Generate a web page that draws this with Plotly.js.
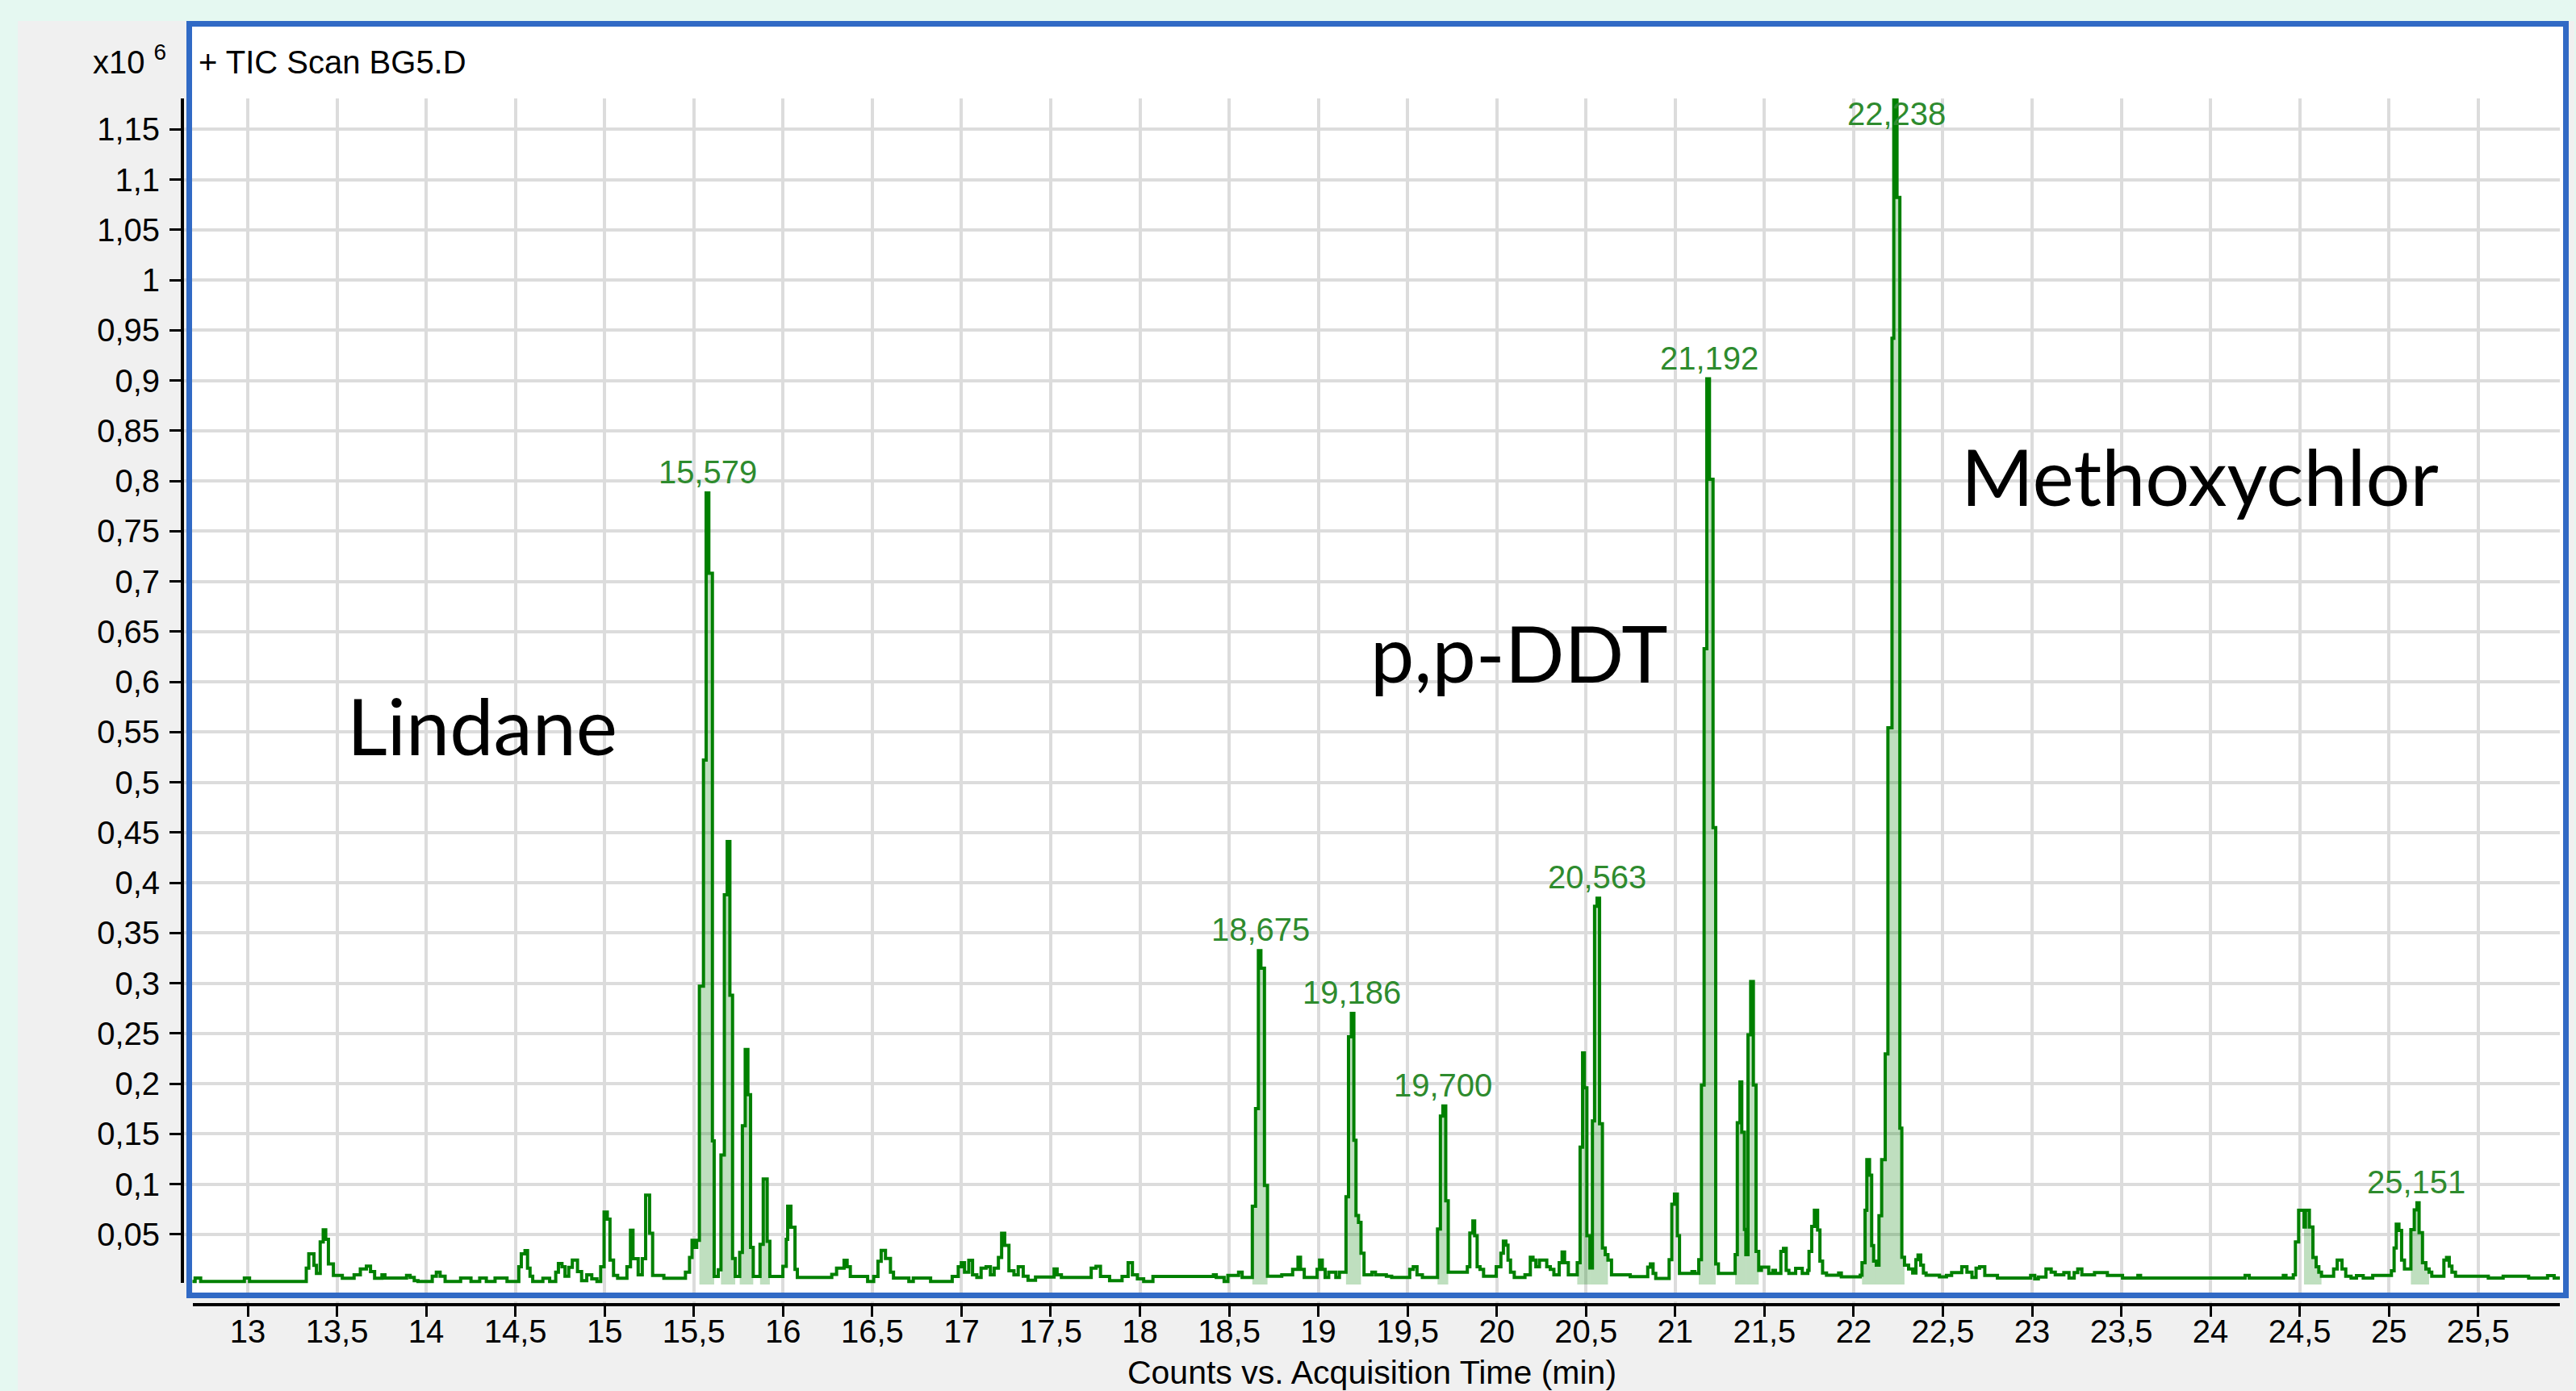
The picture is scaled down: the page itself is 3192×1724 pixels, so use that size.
<!DOCTYPE html>
<html>
<head>
<meta charset="utf-8">
<script src="https://cdn.plot.ly/plotly-3.0.1.min.js"></script>
<style>
html,body{margin:0;padding:0;background:#E5F8F1;}
#chart{width:3192px;height:1724px;}
</style>
</head>
<body>
<div id="chart"></div>
<script>
// ---------------- DATA ----------------
// retention time (min) and TIC counts (x10^6), stepped signal
const timeMin = [
12.690,12.705,12.736,12.981,13.010,13.328,13.342,13.371,13.385,13.406,13.423,13.437,13.452,13.480,13.530,13.596,13.631,13.665,13.688,13.711,
13.752,13.769,13.890,13.910,13.933,13.954,14.034,14.057,14.078,14.106,14.193,14.251,14.300,14.337,14.386,14.453,14.519,14.533,14.554,14.568,
14.582,14.597,14.654,14.692,14.726,14.741,14.761,14.778,14.799,14.819,14.848,14.871,14.900,14.928,14.957,14.978,14.997,15.015,15.030,15.050,
15.073,15.125,15.145,15.159,15.188,15.211,15.230,15.252,15.269,15.332,15.453,15.476,15.490,15.505,15.516,15.531,15.554,15.569,15.584,15.604,
15.614,15.637,15.652,15.671,15.687,15.702,15.717,15.732,15.757,15.772,15.788,15.803,15.818,15.833,15.871,15.889,15.911,15.926,15.999,16.018,
16.026,16.044,16.067,16.080,16.273,16.300,16.342,16.359,16.377,16.474,16.508,16.532,16.550,16.574,16.602,16.619,16.705,16.730,16.827,16.948,
16.982,16.999,17.017,17.041,17.062,17.086,17.110,17.138,17.162,17.183,17.207,17.225,17.242,17.266,17.294,17.318,17.346,17.373,17.415,17.519,
17.536,17.560,17.727,17.754,17.779,17.830,17.900,17.934,17.958,17.986,18.021,18.073,18.412,18.428,18.472,18.493,18.553,18.573,18.630,18.648,
18.664,18.678,18.698,18.715,18.795,18.856,18.886,18.900,18.921,18.993,19.007,19.022,19.038,19.058,19.098,19.118,19.155,19.169,19.185,19.199,
19.211,19.225,19.239,19.256,19.300,19.320,19.381,19.411,19.512,19.532,19.553,19.583,19.668,19.684,19.698,19.714,19.728,19.835,19.849,19.866,
19.876,19.890,19.906,19.926,19.997,20.023,20.037,20.051,20.063,20.077,20.098,20.158,20.188,20.203,20.219,20.239,20.280,20.300,20.320,20.350,
20.366,20.380,20.401,20.451,20.467,20.481,20.491,20.505,20.522,20.536,20.548,20.562,20.576,20.592,20.608,20.623,20.643,20.748,20.846,20.861,
20.876,20.891,20.966,20.981,20.996,21.012,21.024,21.094,21.110,21.132,21.147,21.162,21.177,21.192,21.212,21.227,21.242,21.336,21.348,21.363,
21.373,21.388,21.396,21.408,21.423,21.438,21.453,21.468,21.483,21.524,21.547,21.562,21.592,21.607,21.622,21.637,21.675,21.712,21.743,21.750,
21.765,21.780,21.798,21.811,21.826,21.848,21.916,21.931,22.037,22.047,22.064,22.074,22.089,22.101,22.112,22.127,22.142,22.157,22.177,22.192,
22.215,22.225,22.243,22.259,22.270,22.285,22.308,22.331,22.349,22.361,22.376,22.391,22.406,22.481,22.520,22.549,22.606,22.635,22.663,22.686,
22.706,22.735,22.806,22.992,23.015,23.035,23.078,23.107,23.130,23.178,23.207,23.236,23.256,23.279,23.350,23.422,23.507,23.593,23.608,24.194,
24.217,24.408,24.423,24.464,24.476,24.494,24.524,24.532,24.554,24.574,24.592,24.607,24.622,24.690,24.710,24.737,24.758,24.788,24.818,24.856,
24.909,25.014,25.029,25.041,25.056,25.071,25.087,25.123,25.142,25.157,25.169,25.188,25.207,25.225,25.240,25.308,25.323,25.338,25.353,25.373,
25.557,25.640,25.783,25.889,25.926,25.958
];
const countsE6 = [
0.0030,0.0065,0.0030,0.0064,0.0030,0.0163,0.0305,0.0190,0.0110,0.0423,0.0544,0.0450,0.0204,0.0091,0.0062,0.0096,0.0155,0.0182,0.0129,0.0062,
0.0096,0.0064,0.0091,0.0070,0.0038,0.0030,0.0083,0.0123,0.0083,0.0030,0.0064,0.0030,0.0064,0.0030,0.0064,0.0030,0.0177,0.0305,0.0337,0.0163,
0.0083,0.0030,0.0062,0.0030,0.0123,0.0209,0.0177,0.0083,0.0171,0.0244,0.0129,0.0038,0.0096,0.0056,0.0030,0.0177,0.0720,0.0650,0.0244,0.0091,
0.0062,0.0177,0.0540,0.0257,0.0096,0.0257,0.0890,0.0511,0.0091,0.0062,0.0123,0.0270,0.0440,0.0370,0.0440,0.2970,0.5220,0.7880,0.7080,0.1430,
0.0080,0.0147,0.1290,0.3880,0.4410,0.2880,0.0260,0.0080,0.0320,0.1580,0.2340,0.1890,0.0370,0.0080,0.0400,0.1050,0.0430,0.0080,0.0180,0.0450,
0.0780,0.0570,0.0150,0.0070,0.0100,0.0163,0.0240,0.0177,0.0080,0.0030,0.0080,0.0230,0.0340,0.0260,0.0123,0.0064,0.0030,0.0064,0.0030,0.0080,
0.0177,0.0217,0.0123,0.0240,0.0096,0.0070,0.0163,0.0177,0.0096,0.0163,0.0270,0.0510,0.0390,0.0137,0.0096,0.0177,0.0083,0.0043,0.0075,0.0155,
0.0096,0.0070,0.0163,0.0180,0.0080,0.0038,0.0080,0.0217,0.0096,0.0056,0.0030,0.0080,0.0097,0.0070,0.0030,0.0091,0.0123,0.0070,0.0779,0.1751,
0.3323,0.3149,0.0986,0.0083,0.0097,0.0150,0.0271,0.0150,0.0070,0.0150,0.0244,0.0150,0.0070,0.0123,0.0070,0.0123,0.0873,0.2466,0.2699,0.1435,
0.0686,0.0619,0.0311,0.0097,0.0123,0.0097,0.0083,0.0070,0.0150,0.0177,0.0097,0.0070,0.0552,0.1676,0.1778,0.0833,0.0123,0.0177,0.0512,0.0632,
0.0485,0.0177,0.0150,0.0083,0.0177,0.0311,0.0431,0.0391,0.0244,0.0123,0.0070,0.0097,0.0271,0.0244,0.0177,0.0244,0.0177,0.0150,0.0097,0.0217,
0.0324,0.0217,0.0097,0.0217,0.1368,0.2305,0.1957,0.0485,0.0164,0.1628,0.3765,0.3845,0.1601,0.0364,0.0297,0.0244,0.0097,0.0079,0.0173,0.0204,
0.0110,0.0060,0.0248,0.0800,0.0900,0.0485,0.0110,0.0129,0.0110,0.0248,0.1985,0.6330,0.9016,0.8016,0.4548,0.0204,0.0110,0.0298,0.1610,0.2016,
0.1516,0.0548,0.0298,0.2485,0.3016,0.1985,0.0329,0.0141,0.0173,0.0110,0.0141,0.0110,0.0329,0.0360,0.0141,0.0110,0.0160,0.0110,0.0141,0.0329,
0.0579,0.0738,0.0543,0.0232,0.0115,0.0092,0.0115,0.0076,0.0092,0.0216,0.0738,0.1244,0.1088,0.0387,0.0232,0.0193,0.0684,0.1244,0.2295,0.5542,
0.9420,1.1795,1.0821,0.1556,0.0271,0.0193,0.0154,0.0115,0.0247,0.0294,0.0193,0.0115,0.0092,0.0076,0.0091,0.0118,0.0177,0.0123,0.0070,0.0163,
0.0177,0.0091,0.0064,0.0091,0.0056,0.0075,0.0155,0.0123,0.0096,0.0118,0.0064,0.0118,0.0155,0.0096,0.0118,0.0091,0.0064,0.0091,0.0064,0.0091,
0.0064,0.0091,0.0064,0.0096,0.0423,0.0739,0.0573,0.0739,0.0573,0.0270,0.0177,0.0123,0.0083,0.0155,0.0243,0.0155,0.0083,0.0064,0.0088,0.0064,
0.0091,0.0136,0.0364,0.0600,0.0538,0.0243,0.0155,0.0546,0.0744,0.0814,0.0517,0.0217,0.0155,0.0123,0.0083,0.0243,0.0270,0.0182,0.0123,0.0083,
0.0064,0.0083,0.0064,0.0088,0.0064,0.0064
];
// integrated (shaded) peak windows, min
const integStart = [15.531,15.652,15.757,15.871,18.630,19.155,19.668,20.451,20.522,21.132,21.336,21.396,22.047,22.127,24.524,25.123];
const integEnd   = [15.614,15.732,15.833,15.926,18.715,19.239,19.728,20.522,20.623,21.227,21.396,21.468,22.127,22.285,24.622,25.225];
// labelled retention times
const peakLabelTimes = [15.579,18.675,19.186,19.700,20.563,21.192,22.238,25.151];
const peakLabelTexts = ['15,579','18,675','19,186','19,700','20,563','21,192','22,238','25,151'];
// compound names
const compoundNames = ['Lindane','p,p-DDT','Methoxychlor'];
// axis ticks
const xTickVals = [13,13.5,14,14.5,15,15.5,16,16.5,17,17.5,18,18.5,19,19.5,20,20.5,21,21.5,22,22.5,23,23.5,24,24.5,25,25.5];
const xTickText = ['13','13,5','14','14,5','15','15,5','16','16,5','17','17,5','18','18,5','19','19,5','20','20,5','21','21,5','22','22,5','23','23,5','24','24,5','25','25,5'];
const yTickVals = [0.05,0.1,0.15,0.2,0.25,0.3,0.35,0.4,0.45,0.5,0.55,0.6,0.65,0.7,0.75,0.8,0.85,0.9,0.95,1,1.05,1.1,1.15];
const yTickText = ['0,05','0,1','0,15','0,2','0,25','0,3','0,35','0,4','0,45','0,5','0,55','0,6','0,65','0,7','0,75','0,8','0,85','0,9','0,95','1','1,05','1,1','1,15'];

// ---------------- LAYOUT GEOMETRY ----------------
const plotL = 228, plotR = 3172, plotT = 122, plotB = 1615;
const px2paperX = p => (p - plotL) / (plotR - plotL);
const px2paperY = p => (plotB - p) / (plotB - plotT);
const xRange = [12.6427, 25.9579];
const yRange = [-0.01847, 1.18072];
const yPxPerUnit = (plotB - plotT) / (yRange[1] - yRange[0]);

const uiFont = '"Liberation Sans", Arial, sans-serif';
const bigFont = 'Lato, "Open Sans", "Noto Sans", sans-serif';
const lineGreen = '#008000';
const fillGreen = 'rgba(0,128,0,0.25)';
const labelGreen = '#2E8B2E';

// ---------------- TRACES ----------------
const traces = [];
for (let k = 0; k < integStart.length; k++) {
  const fx = [], fy = [];
  for (let i = 0; i < timeMin.length; i++) {
    if (timeMin[i] >= integStart[k] - 1e-9 && timeMin[i] <= integEnd[k] + 1e-9) {
      fx.push(timeMin[i]); fy.push(countsE6[i]);
    }
  }
  traces.push({x: fx, y: fy, type: 'scatter', mode: 'lines', line: {shape: 'hv', width: 0, color: fillGreen},
               fill: 'tozeroy', fillcolor: fillGreen, hoverinfo: 'skip', showlegend: false});
}
traces.push({x: timeMin, y: countsE6, type: 'scatter', mode: 'lines',
             line: {shape: 'hv', width: 4, color: lineGreen}, showlegend: false});

// ---------------- ANNOTATIONS ----------------
const annotations = [];
const labelMaxY = yRange[1] - 19 / yPxPerUnit - 26 / yPxPerUnit;
peakLabelTimes.forEach((t, k) => {
  let apex = 0;
  for (let i = 0; i < timeMin.length; i++) {
    if (Math.abs(timeMin[i] - t) <= 0.02 && countsE6[i] > apex) apex = countsE6[i];
  }
  annotations.push({x: t, y: Math.min(apex, labelMaxY), xref: 'x', yref: 'y', yanchor: 'middle', xanchor: 'center',
    yshift: 26, text: peakLabelTexts[k], showarrow: false, font: {family: uiFont, size: 40, color: labelGreen}});
});
const namePx = [[428, 898], [1696, 808], [2428, 589]];
compoundNames.forEach((n, k) => {
  annotations.push({xref: 'paper', yref: 'paper', x: px2paperX(namePx[k][0]), y: px2paperY(namePx[k][1]),
    xanchor: 'left', yanchor: 'middle', text: n, showarrow: false, font: {family: bigFont, size: 97, color: '#000'}});
});
annotations.push({xref: 'paper', yref: 'paper', x: px2paperX(244), y: px2paperY(77), xanchor: 'left', yanchor: 'middle',
  text: '+ TIC Scan BG5.D', showarrow: false, font: {family: uiFont, size: 40, color: '#000'}});
annotations.push({xref: 'paper', yref: 'paper', x: px2paperX(208), y: px2paperY(74), xanchor: 'right', yanchor: 'middle',
  text: 'x10 <sup>6</sup>', showarrow: false, font: {family: uiFont, size: 40, color: '#000'}});

// ---------------- SHAPES (panel, frame) ----------------
const shapes = [
  {type: 'rect', xref: 'paper', yref: 'paper', layer: 'below', x0: px2paperX(22), x1: px2paperX(3190), y0: px2paperY(1724), y1: px2paperY(26),
   fillcolor: '#F0F0F0', line: {width: 0}},
  {type: 'rect', xref: 'paper', yref: 'paper', layer: 'below', x0: px2paperX(231), x1: px2paperX(3183), y0: px2paperY(1609), y1: px2paperY(26),
   fillcolor: '#FFFFFF', line: {width: 0}},
  {type: 'rect', xref: 'paper', yref: 'paper', layer: 'above', x0: px2paperX(220), x1: px2paperX(3190), y0: px2paperY(1613), y1: px2paperY(1602),
   fillcolor: '#F0F0F0', line: {width: 0}},
  {type: 'rect', xref: 'paper', yref: 'paper', layer: 'above', x0: px2paperX(218), x1: px2paperX(239), y0: px2paperY(1620), y1: px2paperY(1590),
   fillcolor: '#F0F0F0', line: {width: 0}},
  {type: 'rect', xref: 'paper', yref: 'paper', layer: 'above', x0: px2paperX(234.5), x1: px2paperX(3179.5), y0: px2paperY(1605.5), y1: px2paperY(29.5),
   fillcolor: 'rgba(0,0,0,0)', line: {color: '#316AC5', width: 7}}
];

const axisCommon = {
  tickmode: 'array', ticks: 'outside', tickwidth: 3, tickcolor: '#000',
  showline: true, linecolor: '#000', linewidth: 4,
  showgrid: true, gridcolor: '#DCDCDC', gridwidth: 4, zeroline: false,
  tickfont: {family: uiFont, size: 40, color: '#000'}, fixedrange: true
};

const layout = {
  width: 3192, height: 1724,
  margin: {l: plotL, r: 3192 - plotR, t: plotT, b: 1724 - plotB, pad: 0},
  paper_bgcolor: '#E5F8F1', plot_bgcolor: 'rgba(0,0,0,0)',
  showlegend: false,
  xaxis: Object.assign({}, axisCommon, {range: xRange, tickvals: xTickVals, ticktext: xTickText, ticklen: 13, ticklabelstandoff: -16,
    title: {text: 'Counts vs. Acquisition Time (min)', font: {family: uiFont, size: 41, color: '#000'}, standoff: 30}}),
  yaxis: Object.assign({}, axisCommon, {range: yRange, tickvals: yTickVals, ticktext: yTickText, ticklen: 14, ticklabelstandoff: 4}),
  annotations: annotations,
  shapes: shapes
};

Plotly.newPlot('chart', traces, layout, {staticPlot: true, displayModeBar: false});
</script>
</body>
</html>
